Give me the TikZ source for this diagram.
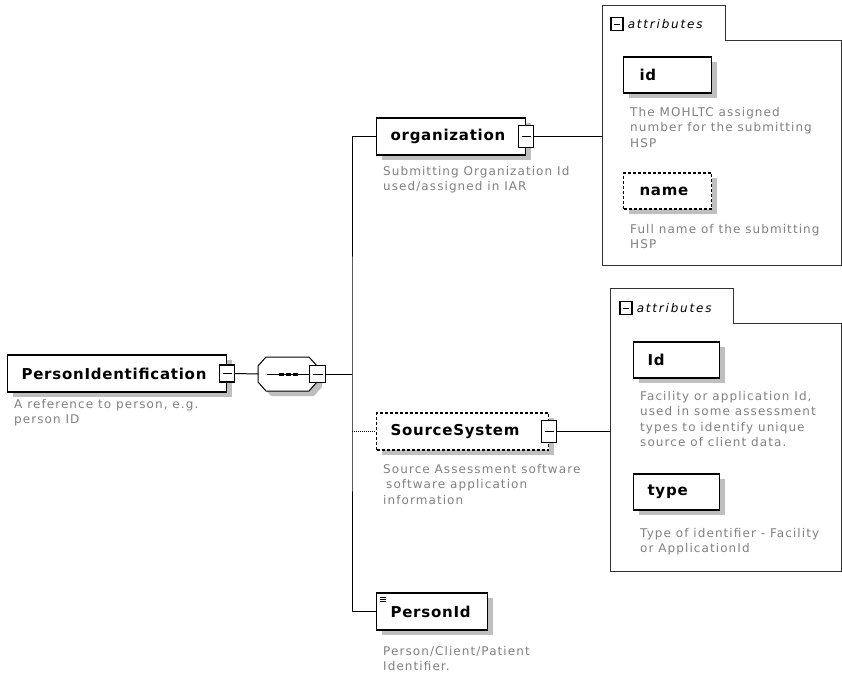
\documentclass[tikz,border=0pt]{standalone}
\usepackage{fontspec}
\setmainfont{DejaVu Sans}
\newfontfamily\labelfont[LetterSpace=5]{DejaVu Sans}
\newfontfamily\descfont[LetterSpace=9]{DejaVu Sans}
\newfontfamily\tabfont[LetterSpace=15]{DejaVu Sans}
\usetikzlibrary{positioning,shadows}

\begin{document}
\begin{tikzpicture}[x=1pt,y=-1pt,
  every node/.style={inner sep=0pt},
  elem/.style={draw,line width=1.1pt,fill=white,anchor=west,minimum height=37pt,
    inner xsep=14pt,align=left,font=\fontsize{15}{17}\labelfont\bfseries,
    drop shadow={shadow xshift=5pt,shadow yshift=-5pt,fill=black!25,opacity=1}},
  optional/.style={dash pattern=on 3pt off 2pt},
  attr/.style={elem,minimum height=36pt},
  desc/.style={anchor=north west,align=left,text=black!50,font=\fontsize{12}{15.5}\descfont},
  minus/.style={draw,line width=1.1pt,fill=white,minimum width=15pt,minimum height=17pt,
    path picture={\draw[line width=1pt] ([xshift=3pt]path picture bounding box.west)
      -- ([xshift=-3pt]path picture bounding box.east);}},
  tabminus/.style={minus,minimum width=12pt,minimum height=13pt},
  tablabel/.style={anchor=west,font=\fontsize{12}{14}\tabfont\itshape},
  simpletype/.style={path picture={\foreach \k in {0,2,4}
      \draw[line width=0.6pt] ([xshift=3pt,yshift={-4pt-\k pt}]path picture bounding box.north west) -- +(6,0);}},
  octline/.style={draw,line width=1pt,fill=white},
  panelline/.style={draw=black!80,line width=0.9pt},
  link/.style={line width=1pt}]
\useasboundingbox (0,0) rectangle (842,681);

% root element and its sequence
\node[elem,minimum width=219pt,text width=191pt] (pident) at (7,373.5) {PersonIdentification};
\node[minus] (pidentMinus) at (pident.east) {};
\node[desc] (pidentDesc) at (14,399) {A reference to person, e.g.\\person ID};
\node[minimum width=59pt,minimum height=35pt] (seq) at (288,374) {};
\begin{scope}[shift={(seq.center)}]
  \fill[black!25,shift={(5,5)}] (-30,-8) -- (-22,-17) -- (21,-17) -- (29,-8) -- (29,8) -- (21,17) -- (-22,17) -- (-30,8) -- cycle;
  \draw[octline] (-30,-8) -- (-22,-17) -- (21,-17) -- (29,-8) -- (29,8) -- (21,17) -- (-22,17) -- (-30,8) -- cycle;
  \draw[line width=0.8pt] (-21,0) -- (22,0);
  \foreach \d in {-9,-2,5}
    \fill (\d,-1.5) rectangle +(4.5,3);
\end{scope}
\node[minus,minimum width=16pt] (seqMinus) at (seq.east) {};
\coordinate (bus) at (352,374);

% children
\node[elem,minimum width=149pt,text width=121pt] (org) at (376,136.5) {organization};
\node[minus,minimum height=22pt] (orgMinus) at (org.east) {};
\node[desc] (orgDesc) at (383,166) {Submitting Organization Id\\used/assigned in IAR};

\node[elem,optional,minimum width=172pt,text width=144pt] (src) at (376,431.5) {SourceSystem};
\node[minus,minimum height=22pt] (srcMinus) at (src.east) {};
\node[desc] (srcDesc) at (383,464) {Source Assessment software\\\hspace*{3pt}software application\\information};

\node[elem,simpletype,minimum width=111pt,text width=83pt] (personid) at (376,611.5) {PersonId};
\node[desc] (personidDesc) at (383,646) {Person/Client/Patient\\Identifier.};

% attributes of organization
\node[minimum width=239pt,minimum height=225pt,anchor=north west] (attsA) at (602.5,40) {};
\draw[panelline] (attsA.north east) -| ([xshift=123pt,yshift=35pt]attsA.north west)
  -| (attsA.south west) -| (attsA.north east);
\node[tabminus] (tabA) at (617,24) {};
\node[tablabel,right=4pt of tabA] (tabAText) {attributes};
\node[attr,inner xsep=16pt,minimum width=88pt,text width=56pt] (idA) at (623,75) {id};
\node[desc] (idADesc) at (630,107) {The MOHLTC assigned\\number for the submitting\\HSP};
\node[attr,optional,inner xsep=16pt,minimum width=88pt,text width=56pt] (nameA) at (623,191) {name};
\node[desc] (nameADesc) at (630,224) {Full name of the submitting\\HSP};

% attributes of SourceSystem
\node[minimum width=231pt,minimum height=248pt,anchor=north west] (attsB) at (610.5,323) {};
\draw[panelline] (attsB.north east) -| ([xshift=123pt,yshift=35pt]attsB.north west)
  -| (attsB.south west) -| (attsB.north east);
\node[tabminus] (tabB) at (626,308) {};
\node[tablabel,right=4pt of tabB] (tabBText) {attributes};
\node[attr,minimum width=86pt,text width=58pt] (idB) at (633,360) {Id};
\node[desc] (idBDesc) at (640,391) {Facility or application Id,\\used in some assessment\\types to identify unique\\source of client data.};
\node[attr,minimum width=86pt,text width=58pt] (typeB) at (633,492) {type};
\node[desc] (typeBDesc) at (640,528) {Type of identifier - Facility\\or ApplicationId};

% connectors
\draw[link] (pidentMinus.east) -- (seq.west);
\draw[link] (seqMinus.east) -- (bus);
\draw[link] (org.west) -| (bus) |- (personid.west);
\draw[link,densely dotted] (src.west -| bus) -- (src.west);
\draw[link] (orgMinus.east) -- (orgMinus.east -| attsA.west);
\draw[link] (srcMinus.east) -- (srcMinus.east -| attsB.west);
\end{tikzpicture}
\end{document}
